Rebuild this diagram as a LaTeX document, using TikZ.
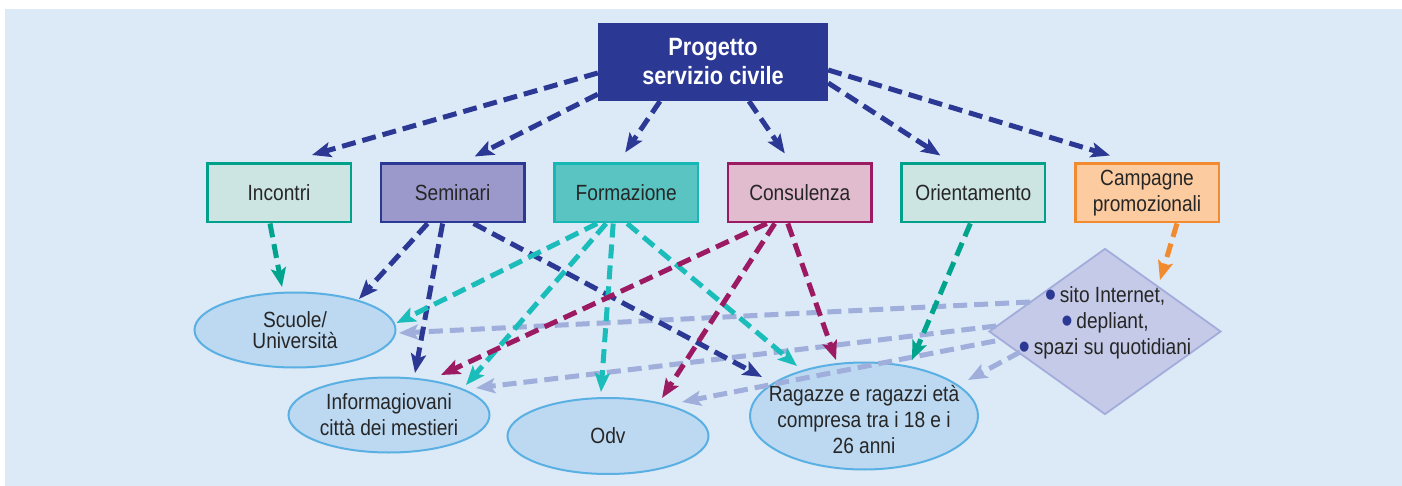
\documentclass[tikz,border=0pt]{standalone}
\usepackage{fontspec}
\setmainfont{Liberation Sans}[FakeStretch=0.87]
\usetikzlibrary{arrows.meta,positioning,shapes.geometric}
\definecolor{bgblue}{HTML}{DCE9F6}
\definecolor{prjblue}{HTML}{2B3894}
\definecolor{incfill}{HTML}{CCE5E2}
\definecolor{incdraw}{HTML}{00A08A}
\definecolor{semfill}{HTML}{9B99CB}
\definecolor{frmfill}{HTML}{59C4C1}
\definecolor{frmdraw}{HTML}{16B8B5}
\definecolor{cnsfill}{HTML}{E1BBCE}
\definecolor{cnsdraw}{HTML}{9C1A62}
\definecolor{cmpfill}{HTML}{FDCBA0}
\definecolor{cmpdraw}{HTML}{F28A30}
\definecolor{ellfill}{HTML}{BDD9F2}
\definecolor{elldraw}{HTML}{5AB0E2}
\definecolor{diafill}{HTML}{C4CAE8}
\definecolor{diadraw}{HTML}{A3ACDA}
\definecolor{tealA}{HTML}{00A38C}
\definecolor{cyanA}{HTML}{1BBDBA}
\definecolor{vioA}{HTML}{A0AEDC}
\newcommand{\itm}{\textcolor{prjblue}{\smash{\raisebox{-5pt}{\scalebox{1.7}{\textbullet}}}}\,}

\begin{document}
\begin{tikzpicture}[x=1pt,y=-1pt,node distance=27.6pt,
  txt/.style={font=\fontsize{22}{26}\selectfont,text=black!85,align=center},
  topbox/.style={fill=prjblue,text=white,font=\bfseries\fontsize{25}{29}\selectfont,align=center,minimum width=230pt,minimum height=78pt},
  actbox/.style={txt,draw,line width=2.5pt,minimum width=143.5pt,minimum height=58.5pt,inner sep=2pt},
  target/.style={ellipse,draw=elldraw,fill=ellfill,line width=2pt,inner sep=0pt,minimum width=201pt,minimum height=75pt},
  arr/.style={line width=5pt,dash pattern=on 14pt off 7pt,-{Stealth[length=19pt,width=15pt,inset=4pt]}}]
  \useasboundingbox (0,0) rectangle (1402,486);
  \fill[bgblue] (5,9) rectangle (1402,486);
  \node[topbox] (prj) at (713,62) {Progetto\\servizio civile};
  \node[actbox,draw=incdraw,fill=incfill] (inc) at (279,193) {Incontri};
  \node[actbox,draw=prjblue,fill=semfill,right=of inc] (sem) {Seminari};
  \node[actbox,draw=frmdraw,fill=frmfill,right=of sem] (frm) {Formazione};
  \node[actbox,draw=cnsdraw,fill=cnsfill,right=of frm] (cns) {Consulenza};
  \node[actbox,draw=incdraw,fill=incfill,right=of cns] (ori) {Orientamento};
  \node[actbox,draw=cmpdraw,fill=cmpfill,right=of ori] (cmp) {Campagne\\promozionali};
  \node[target,label={[txt,font=\fontsize{22}{21}\selectfont]center:Scuole/\\Università}] (scu) at (295,330) {};
  \node[target,label={[txt]center:Informagiovani\\città dei mestieri}] (inf) at (389,415) {};
  \node[target,minimum height=76pt,label={[txt]center:Odv}] (odv) at (608,436) {};
  \node[target,minimum width=228pt,minimum height=107pt,label={[txt,yshift=-4pt]center:Ragazze e ragazzi età\\compresa tra i 18 e i\\26 anni}] (rag) at (864,416) {};
  \node[diamond,draw=diadraw,fill=diafill,line width=1.8pt,inner sep=0pt,minimum width=232pt,minimum height=166pt,
    label={[txt,yshift=9pt]center:\itm sito Internet,\\\itm depliant,\\\itm spazi su quotidiani}] (dia) at (1105,331.5) {};
  \draw[arr,prjblue] ([yshift=-11pt]prj.west) -- ([xshift=33pt,yshift=7.5pt]inc.north);
  \draw[arr,prjblue] ([yshift=7pt]prj.south west) -- ([xshift=22pt,yshift=6pt]sem.north);
  \draw[arr,prjblue] ([xshift=-53pt]prj.south) -- ([xshift=-1pt,yshift=10pt]frm.north);
  \draw[arr,prjblue] ([xshift=36pt]prj.south) -- ([xshift=-15pt,yshift=9pt]cns.north);
  \draw[arr,prjblue] ([yshift=-21pt]prj.east) -- ([xshift=-33pt,yshift=7pt]ori.north);
  \draw[arr,prjblue] ([yshift=-8pt]prj.east) -- ([xshift=-37pt,yshift=7pt]cmp.north);
  \draw[arr,vioA] ([xshift=42pt,yshift=29.5pt]dia.west) -- ([xshift=2.5pt,yshift=-3pt]scu.east);
  \draw[arr,vioA] ([xshift=8pt,yshift=5.5pt]dia.west) -- ([xshift=87pt,yshift=-11.5pt]inf.north);
  \draw[arr,vioA] ([xshift=7pt,yshift=-9.5pt]dia.west) -- ([xshift=74pt,yshift=-5pt]odv.north);
  \draw[arr,vioA] ([xshift=32pt,yshift=-20.5pt]dia.west) -- ([xshift=104pt,yshift=-18.5pt]rag.north);
  \draw[arr,tealA] ([xshift=-9pt]inc.south) -- ([xshift=-13pt,yshift=4.5pt]scu.north);
  \draw[arr,prjblue] ([xshift=-25pt]sem.south) -- ([xshift=64pt,yshift=-7.5pt]scu.north);
  \draw[arr,prjblue] ([xshift=-10pt]sem.south) -- ([xshift=26pt,yshift=3.5pt]inf.north);
  \draw[arr,prjblue] ([xshift=21pt]sem.south) -- ([xshift=-102pt,yshift=-15.5pt]rag.north);
  \draw[arr,cyanA] ([xshift=-29pt]frm.south) -- ([yshift=7pt]scu.east);
  \draw[arr,cyanA] ([xshift=-20pt]frm.south) -- ([xshift=77pt,yshift=-8.5pt]inf.north);
  \draw[arr,cyanA] ([xshift=-13pt]frm.south) -- ([xshift=-7pt,yshift=5pt]odv.north);
  \draw[arr,cyanA] ([xshift=1pt]frm.south) -- ([xshift=-67pt,yshift=-4.5pt]rag.north);
  \draw[arr,cnsdraw] ([xshift=-33pt]cns.south) -- ([xshift=52pt,yshift=1.5pt]inf.north);
  \draw[arr,cnsdraw] ([xshift=-25pt]cns.south) -- ([xshift=54pt,yshift=-1pt]odv.north);
  \draw[arr,cnsdraw] ([xshift=-12pt]cns.south) -- ([xshift=-28pt,yshift=1.5pt]rag.north);
  \draw[arr,tealA] ([xshift=-3pt]ori.south) -- ([xshift=48pt,yshift=1.5pt]rag.north);
  \draw[arr,cmpdraw] ([xshift=30pt]cmp.south) -- ([xshift=55pt,yshift=-32.5pt]dia.north);
\end{tikzpicture}
\end{document}
